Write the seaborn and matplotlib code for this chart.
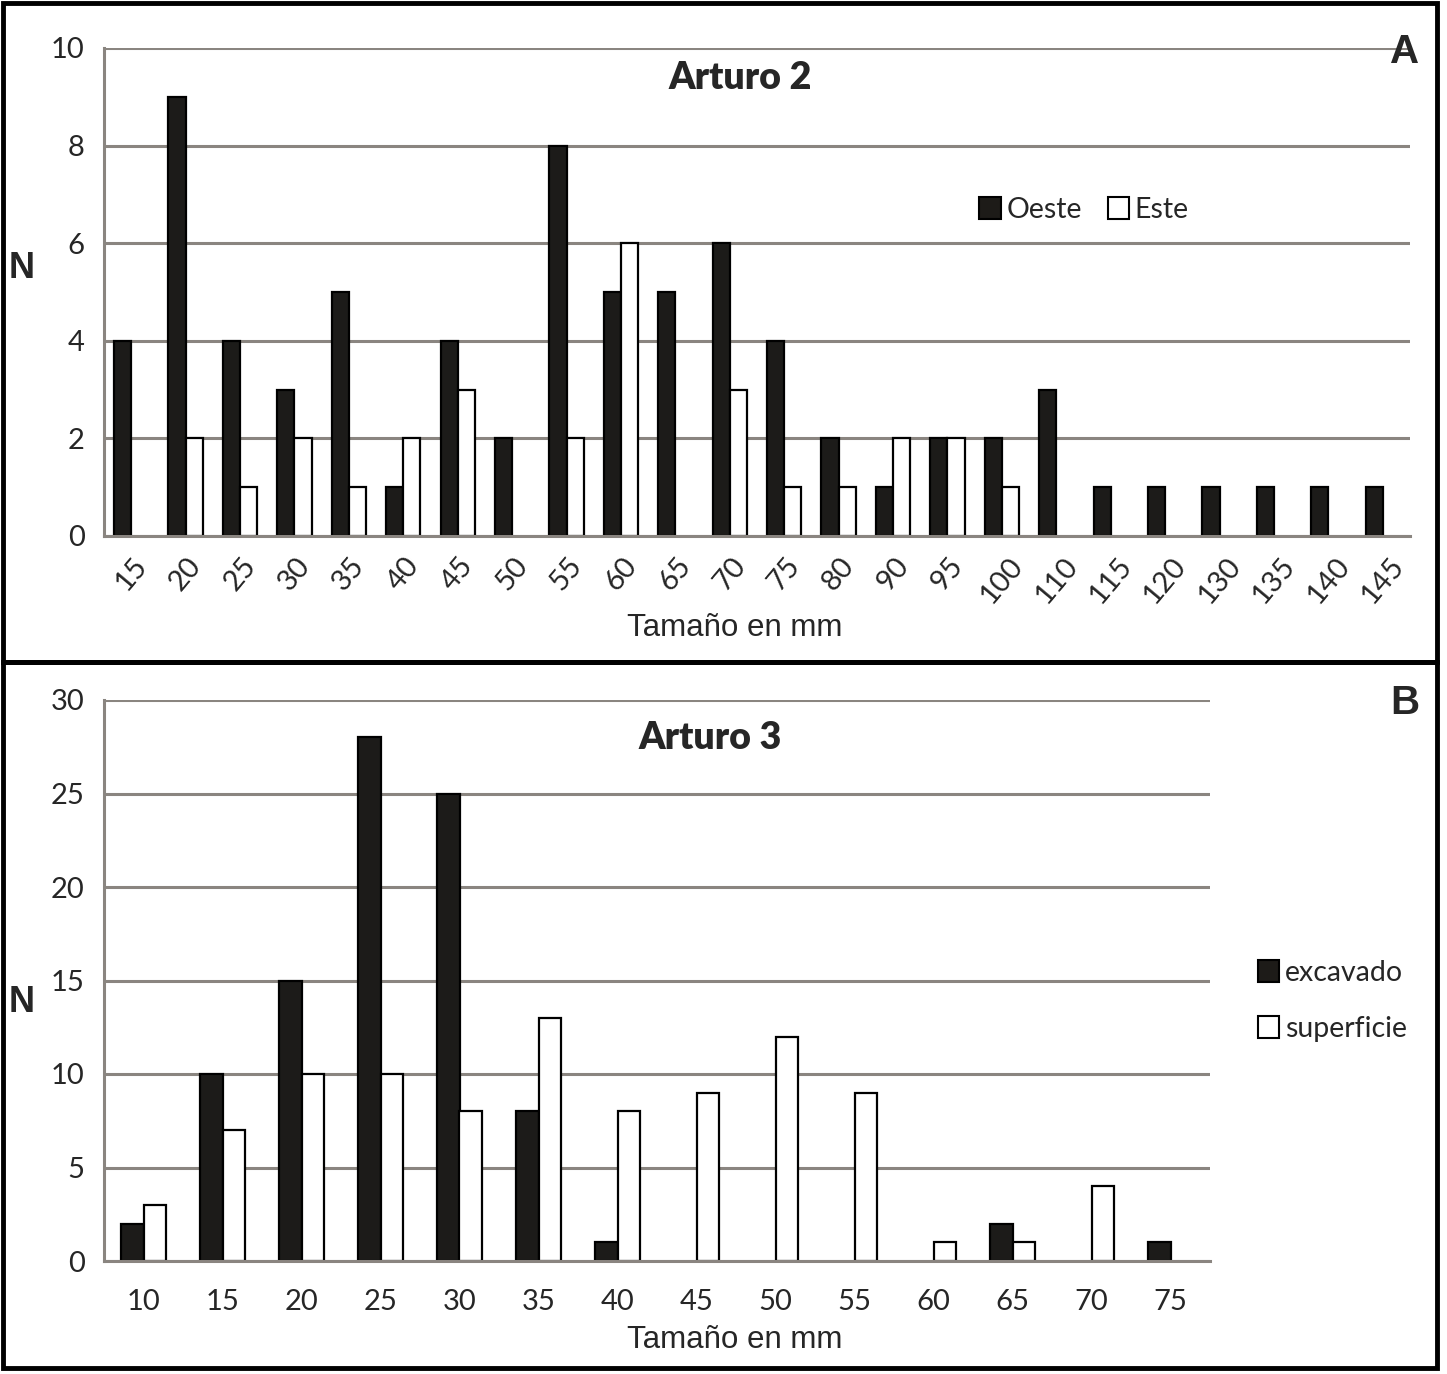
import matplotlib
matplotlib.use('Agg')  # no display
import matplotlib.pyplot as plt
from matplotlib.patches import Patch, Rectangle
import seaborn as sns
import pandas as pd
import numpy as np

# Panel A - Arturo 2
sizes_a = ['15', '20', '25', '30', '35', '40', '45', '50', '55', '60', '65', '70',
           '75', '80', '90', '95', '100', '110', '115', '120', '130', '135', '140', '145']
oeste = [4, 9, 4, 3, 5, 1, 4, 2, 8, 5, 5, 6, 4, 2, 1, 2, 2, 3, 1, 1, 1, 1, 1, 1]
este = [0, 2, 1, 2, 1, 2, 3, 0, 2, 6, 0, 3, 1, 1, 2, 2, 1, 0, 0, 0, 0, 0, 0, 0]

# Panel B - Arturo 3
sizes_b = ['10', '15', '20', '25', '30', '35', '40', '45', '50', '55', '60', '65', '70', '75']
excavado = [2, 10, 15, 28, 25, 8, 1, 0, 0, 0, 0, 2, 0, 1]
superficie = [3, 7, 10, 10, 8, 13, 8, 9, 12, 9, 1, 1, 4, 0]

GRID = '#8a8580'
DARK = '#1d1b18'
W, H = 1447, 1374

sns.set_style('white')
plt.rcParams['font.family'] = ['Lato', 'DejaVu Sans']


def long_table(sizes, series):
    """Long-form table, zero counts dropped so no empty bar outline is drawn."""
    rows = []
    for name, vals in series.items():
        for s, v in zip(sizes, vals):
            if v > 0:
                rows.append({'size': s, 'N': v, 'grupo': name})
    return pd.DataFrame(rows)


def draw_panel(ax, sizes, series, width, ymax, ystep, rot):
    names = list(series.keys())
    df = long_table(sizes, series)
    sns.barplot(data=df, x='size', y='N', hue='grupo', order=sizes, hue_order=names,
                palette={names[0]: DARK, names[1]: 'white'}, edgecolor='black',
                linewidth=1.6, width=width, gap=0, errorbar=None, legend=False, ax=ax)
    n = len(sizes)
    ax.set_xlim(-0.5, n - 0.5)
    ax.set_ylim(0, ymax)
    ax.set_yticks(np.arange(0, ymax + 1, ystep))
    ax.yaxis.grid(True, color=GRID, lw=2.2)
    ax.set_axisbelow(True)
    ax.set_xlabel('')
    ax.set_ylabel('')
    for s in ['top', 'right']:
        ax.spines[s].set_visible(False)
    for s in ['left', 'bottom']:
        ax.spines[s].set_color(GRID)
        ax.spines[s].set_linewidth(2.2)
    ax.set_xticks(np.arange(-0.5, n, 1), minor=True)
    ax.tick_params(axis='x', which='major', length=0, labelsize=21, pad=12 if rot else 20)
    ax.tick_params(axis='x', which='minor', length=9, width=2, color=GRID, direction='out')
    ax.tick_params(axis='y', length=9, width=2, color=GRID, labelsize=21, pad=5)
    if rot:
        for lab in ax.get_xticklabels():
            lab.set_rotation(50)
            lab.set_ha('center')
            lab.set_va('top')


fig = plt.figure(figsize=(W / 100, H / 100), dpi=100)

ax_a = fig.add_axes([104 / W, 1 - 536 / H, 1306 / W, 488 / H])
draw_panel(ax_a, sizes_a, {'Oeste': oeste, 'Este': este}, 0.63, 10, 2, True)

ax_b = fig.add_axes([104 / W, 1 - 1261 / H, 1106 / W, 561 / H])
draw_panel(ax_b, sizes_b, {'excavado': excavado, 'superficie': superficie}, 0.58, 30, 5, False)

# titles, axis labels, panel letters
fig.text(740 / W, 1 - 78 / H, 'Arturo 2', ha='center', va='center', fontsize=27, fontweight='heavy')
fig.text(710 / W, 1 - 738 / H, 'Arturo 3', ha='center', va='center', fontsize=27, fontweight='heavy')
for y in (628, 1340):
    fig.text(735 / W, 1 - y / H, 'Tamaño en mm', ha='center', va='center',
             fontsize=22.5, family='Liberation Sans')
for y in (268, 1003):
    fig.text(22 / W, 1 - y / H, 'N', ha='center', va='center', fontsize=26,
             fontweight='bold', family='Liberation Sans')
fig.text(1405 / W, 1 - 52 / H, 'A', ha='center', va='center', fontsize=29,
         fontweight='bold', family='Liberation Sans')
fig.text(1405 / W, 1 - 703 / H, 'B', ha='center', va='center', fontsize=29,
         fontweight='bold', family='Liberation Sans')

# legends
h_a = [Patch(facecolor=DARK, edgecolor='black', lw=1.5, label='Oeste'),
       Patch(facecolor='white', edgecolor='black', lw=1.5, label='Este')]
fig.legend(handles=h_a, loc='center', bbox_to_anchor=(1084 / W, 1 - 210 / H), ncol=2,
           frameon=False, fontsize=20.5, handlelength=0.75, handleheight=0.8,
           handletextpad=0.2, columnspacing=0.9)
h_b = [Patch(facecolor=DARK, edgecolor='black', lw=1.5, label='excavado'),
       Patch(facecolor='white', edgecolor='black', lw=1.5, label='superficie')]
fig.legend(handles=h_b, loc='center left', bbox_to_anchor=(1232 / W, 1 - 1001 / H),
           frameon=False, fontsize=20.5, handlelength=0.75, handleheight=0.8,
           handletextpad=0.2, labelspacing=1.05)

# panel frames
fig.patches.append(Rectangle((3 / W, 1 - 662 / H), 1434 / W, 659 / H, fill=False,
                             edgecolor='black', lw=3.5, transform=fig.transFigure))
fig.patches.append(Rectangle((3 / W, 1 - 1368 / H), 1434 / W, 706 / H, fill=False,
                             edgecolor='black', lw=3.5, transform=fig.transFigure))

fig.savefig('out.png', dpi=100, facecolor='white')
